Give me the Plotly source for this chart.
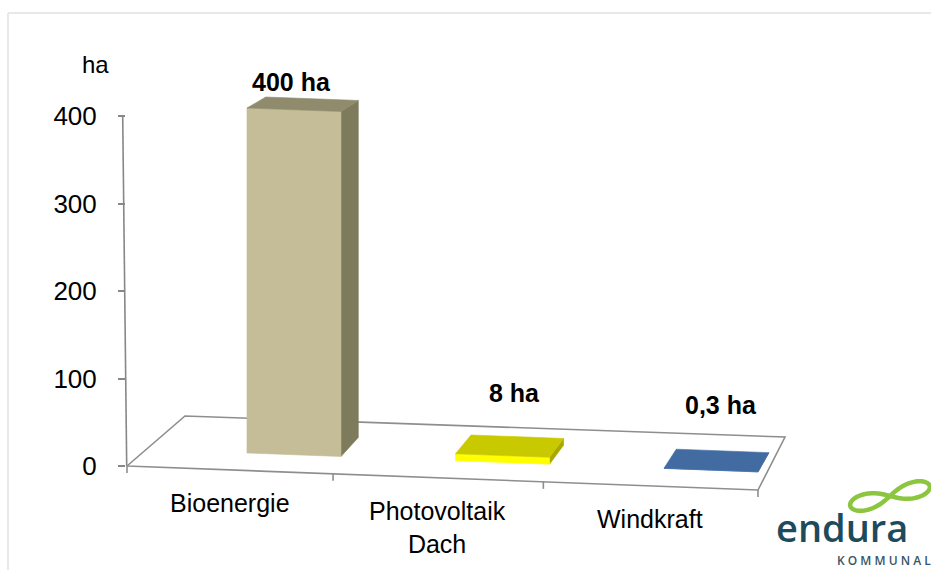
import math
import plotly.graph_objects as go

# ---- data -------------------------------------------------------------
categories = ["Bioenergie", "Photovoltaik<br>Dach", "Windkraft"]
areas_ha = [400, 8, 0.3]
value_labels = ["400 ha", "8 ha", "0,3 ha"]
value_ticks = [0, 100, 200, 300, 400]
value_tick_text = ["0", "100", "200", "300", "400"]
unit_label = "ha"

# ---- styling ----------------------------------------------------------
FONT = "Liberation Sans, Arial, sans-serif"
AXIS_GREY = "#878787"
FRONT_COLORS = ["#C4BD97", "#FFFF00", "#4F81BD"]
TOP_COLORS = ["#8F8B6C", "#C9C900", "#426BA2"]
SIDE_COLORS = ["#7E7A5C", "#A8A800", "#3A5E8E"]

W, H = 931, 570
V_MAX = value_ticks[-1]

# value axis: 0 ha sits at pixel row 466, 400 ha at pixel row 116
PX_PER_HA = 350 / V_MAX
Y0_PX = 466
LO = -(H - Y0_PX) / PX_PER_HA
HI = LO + H / PX_PER_HA


def to_axis(px, py):
    """pixel position -> (x axis units, value axis units)"""
    return px, LO + (H - py) / PX_PER_HA


# oblique floor of the 3-D chart (pixel space)
FLOOR_FL = (127, 466)
FLOOR_FR = (758, 490)
FLOOR_BR = (785, 437)
FLOOR_BL = (185, 416)
PERSP_C = 0.031          # foreshortening along the category direction


def front_frac(f):
    return f / (1 + PERSP_C * (1 - f))


def front_point(f):
    t = front_frac(f)
    return (FLOOR_FL[0] + t * (FLOOR_FR[0] - FLOOR_FL[0]),
            FLOOR_FL[1] + t * (FLOOR_FR[1] - FLOOR_FL[1]))


# bar placement in pixel space
BAR_X0, BAR_STEP, BAR_W = 247, 208.5, 94
BASE_Y0, BASE_SLOPE = 453, 0.037
BAR_PX_PER_HA = 345 / V_MAX


def depth(x, v):
    return 18 - 0.0155 * (x - 295), -19 + 8 * v / V_MAX


def poly_trace(pts, color):
    xs, ys = [], []
    for px, py in pts + [pts[0]]:
        ax_x, ax_y = to_axis(px, py)
        xs.append(ax_x)
        ys.append(ax_y)
    return go.Scatter(x=xs, y=ys, mode="lines", fill="toself",
                      fillcolor=color, line=dict(color=color, width=0.6),
                      hoverinfo="skip", showlegend=False)


fig = go.Figure()

# floor
floor = [FLOOR_FL, FLOOR_FR, FLOOR_BR, FLOOR_BL, FLOOR_FL]
fig.add_trace(go.Scatter(
    x=[to_axis(*p)[0] for p in floor],
    y=[to_axis(*p)[1] for p in floor],
    mode="lines", fill="toself", fillcolor="white",
    line=dict(color="#8E8E8E", width=1.6),
    hoverinfo="skip", showlegend=False))

# category tick marks on the front edge
tx, ty = [], []
for k in range(len(categories) + 1):
    px, py = front_point(k / len(categories))
    for q in [(px, py), (px, py + 7)]:
        a = to_axis(*q)
        tx.append(a[0])
        ty.append(a[1])
    tx.append(None)
    ty.append(None)
fig.add_trace(go.Scatter(x=tx, y=ty, mode="lines",
                         line=dict(color="#8E8E8E", width=1.6),
                         hoverinfo="skip", showlegend=False))

# value axis line (slightly tilted by the 3-D view)
AXIS_X0, AXIS_TILT = 126.7, -4.0
fig.add_trace(go.Scatter(
    x=[AXIS_X0, AXIS_X0 + AXIS_TILT], y=[0, V_MAX], mode="lines",
    line=dict(color=AXIS_GREY, width=1.6), hoverinfo="skip", showlegend=False))

# 3-D columns
LABEL_SHIFT = [(-12, -22), (5, -53), (4, -55)]
annotations = []
for i, v in enumerate(areas_ha):
    xl = BAR_X0 + i * BAR_STEP
    xr = xl + BAR_W
    ybl = BASE_Y0 + (xl - BAR_X0) * BASE_SLOPE
    ybr = BASE_Y0 + (xr - BAR_X0) * BASE_SLOPE
    h = v * BAR_PX_PER_HA
    fbl, fbr = (xl, ybl), (xr, ybr)
    ftl, ftr = (xl, ybl - h), (xr, ybr - h)
    dl, dr, dr0 = depth(xl, v), depth(xr, v), depth(xr, 0)
    btl = (ftl[0] + dl[0], ftl[1] + dl[1])
    btr = (ftr[0] + dr[0], ftr[1] + dr[1])
    bbr = (fbr[0] + dr0[0], fbr[1] + dr0[1])
    fig.add_trace(poly_trace([fbr, bbr, btr, ftr], SIDE_COLORS[i]))
    fig.add_trace(poly_trace([fbl, fbr, ftr, ftl], FRONT_COLORS[i]))
    fig.add_trace(poly_trace([ftl, ftr, btr, btl], TOP_COLORS[i]))

    cx = (ftl[0] + ftr[0] + btr[0] + btl[0]) / 4 + LABEL_SHIFT[i][0]
    cy = (ftl[1] + ftr[1] + btr[1] + btl[1]) / 4 + LABEL_SHIFT[i][1]
    ax_x, ax_y = to_axis(cx, cy)
    annotations.append(dict(x=ax_x, y=ax_y, xref="x", yref="y",
                            text="<b>%s</b>" % value_labels[i], showarrow=False,
                            xanchor="center", yanchor="middle",
                            font=dict(family=FONT, size=25, color="black")))

# category labels below the front edge
for i, name in enumerate(categories):
    px, py = front_point((i + 0.5) / len(categories))
    ax_x, ax_y = to_axis(px, py + 17)
    annotations.append(dict(x=ax_x, y=ax_y, xref="x", yref="y", text=name,
                            showarrow=False, xanchor="center", yanchor="top",
                            align="center",
                            font=dict(family=FONT, size=25, color="black")))

# unit label above the value axis
ux, uy = to_axis(95, 64)
annotations.append(dict(x=ux, y=uy, xref="x", yref="y", text=unit_label,
                        showarrow=False, xanchor="center", yanchor="middle",
                        font=dict(family=FONT, size=24, color="black")))

# company logo
annotations.append(dict(x=842 / W, y=1 - 527 / H, xref="paper", yref="paper",
                        text="endura", showarrow=False, xanchor="center",
                        yanchor="middle",
                        font=dict(family="Open Sans", size=38, weight=600,
                                  color="#1D4B5C")))
annotations.append(dict(x=933 / W, y=1 - 560 / H, xref="paper", yref="paper",
                        text="K O M M U N A L", showarrow=False, xanchor="right",
                        yanchor="middle",
                        font=dict(family="Open Sans", size=12, weight=600,
                                  color="#3A5565")))

# green swoosh of the logo (tilted lemniscate)
pts = []
for k in range(0, 121):
    t = 2 * math.pi * k / 120
    den = 1 + math.sin(t) ** 2
    lx = 41 * math.cos(t) / den
    ly = 0.55 * 41 * math.sin(t) * math.cos(t) / den
    th = math.radians(14)
    sx = 890 + lx * math.cos(th) + ly * math.sin(th)
    sy = 496 - lx * math.sin(th) + ly * math.cos(th)
    pts.append((sx / W, 1 - sy / H))
path = "M " + " L ".join("%.5f,%.5f" % p for p in pts) + " Z"

shapes = [
    dict(type="path", path=path, xref="paper", yref="paper",
         line=dict(color="#8CC63F", width=4.5)),
    dict(type="line", xref="paper", yref="paper", x0=8 / W, x1=1,
         y0=1 - 13 / H, y1=1 - 13 / H, line=dict(color="#E8E8E8", width=2)),
    dict(type="line", xref="paper", yref="paper", x0=8 / W, x1=8 / W,
         y0=0, y1=1 - 13 / H, line=dict(color="#E8E8E8", width=2)),
]

fig.update_layout(
    width=W, height=H, autosize=False,
    margin=dict(l=0, r=0, t=0, b=0),
    paper_bgcolor="white", plot_bgcolor="white",
    showlegend=False,
    xaxis=dict(range=[0, W], visible=False, fixedrange=True),
    yaxis=dict(range=[LO, HI], anchor="free", position=125 / W,
               showgrid=False, zeroline=False, showline=False,
               tickmode="array", tickvals=value_ticks, ticktext=value_tick_text,
               ticks="outside", ticklen=7, tickwidth=1.6, tickcolor=AXIS_GREY,
               ticklabelstandoff=16,
               tickfont=dict(family=FONT, size=26, color="black"),
               fixedrange=True),
    annotations=annotations,
    shapes=shapes,
)

fig.write_html("out.html")
